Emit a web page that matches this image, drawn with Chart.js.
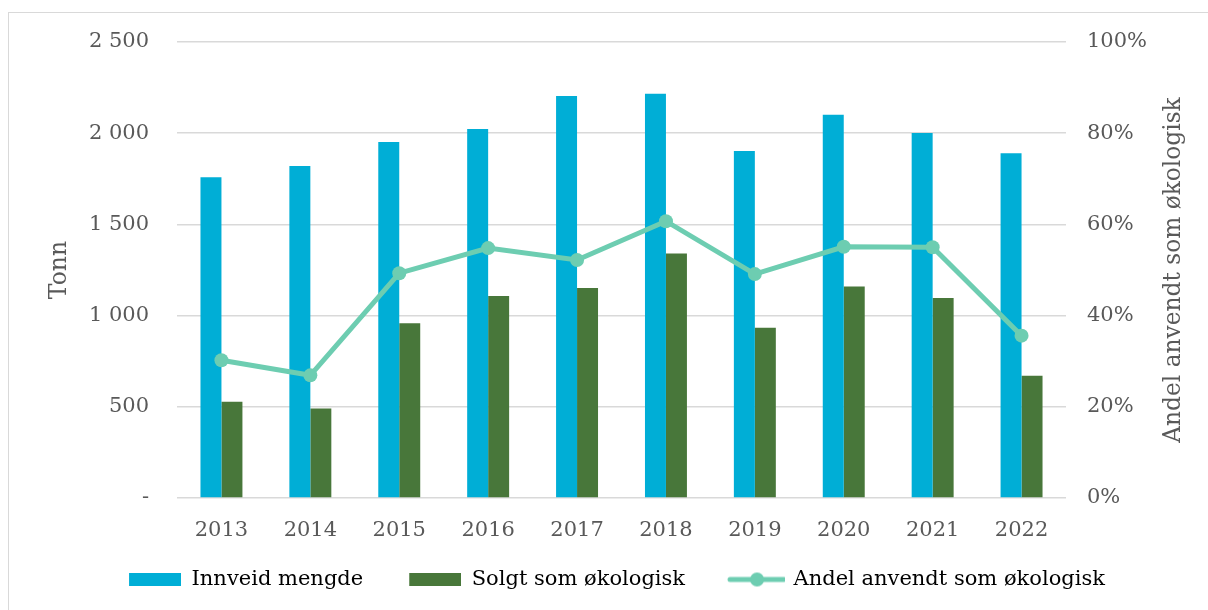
<!DOCTYPE html>
<html>
<head>
<meta charset="utf-8">
<script src="https://cdn.jsdelivr.net/npm/chart.js@4.4.1/dist/chart.umd.min.js"></script>
<style>
html,body{margin:0;padding:0;background:#fff;overflow:hidden}
#wrap{position:relative;width:1208px;height:610px}
#frame{position:absolute;left:8px;top:12px;width:1400px;height:800px;border:1.5px solid #d9d9d9;box-sizing:border-box}
#c{position:absolute;left:0;top:0}
</style>
</head>
<body>
<div id="wrap"><div id="frame"></div><canvas id="c" width="1208" height="610"></canvas></div>
<script>
// ---- data ----
const years = ['2013','2014','2015','2016','2017','2018','2019','2020','2021','2022'];
const innveidMengde = [1758,1820,1952,2023,2204,2216,1902,2101,2001,1890];
const solgtSomOkologisk = [528,490,958,1107,1151,1341,934,1160,1096,670];
const andelAnvendt = [30.2,26.9,49.3,54.8,52.2,60.7,49.1,55.1,55.0,35.6];
const leftTickValues = [0,500,1000,1500,2000,2500];
const leftTickLabels = ['-','500','1 000','1 500','2 000','2 500'];
const rightTickValues = [0,20,40,60,80,100];
const rightTickLabels = ['0%','20%','40%','60%','80%','100%'];
const seriesNames = ['Innveid mengde','Solgt som økologisk','Andel anvendt som økologisk'];
const leftTitle = 'Tonn';
const rightTitle = 'Andel anvendt som økologisk';

// ---- styles ----
const FONT = 'DejaVu Serif';
const TEXT = '#595959';
const BLUE = '#00AED6';
const GREEN = '#48773A';
const TEAL = '#6DCDB1';
const GRID = '#d9d9d9';
const LEAD = 36; // blank space before each legend symbol

function rectImg(color){
  const c=document.createElement('canvas'); c.width=52+LEAD; c.height=13;
  const x=c.getContext('2d'); x.fillStyle=color; x.fillRect(LEAD,0,52,13); return c;
}
function lineImg(color){
  const c=document.createElement('canvas'); c.width=52+LEAD+4; c.height=16;
  const x=c.getContext('2d'); x.strokeStyle=color; x.lineWidth=5; x.lineCap='round';
  x.beginPath(); x.moveTo(LEAD+1,8); x.lineTo(LEAD+55,8); x.stroke();
  x.fillStyle=color; x.beginPath(); x.arc(LEAD+28,8,7,0,Math.PI*2); x.fill(); return c;
}
const legendImgs=[rectImg(BLUE),rectImg(GREEN),lineImg(TEAL)];

const rightTitlePlugin={
  id:'rightTitle',
  afterDraw(chart){
    const ctx=chart.ctx; const a=chart.chartArea;
    ctx.save();
    ctx.font='23.3px "'+FONT+'"'; ctx.fillStyle=TEXT;
    ctx.textAlign='center'; ctx.textBaseline='middle';
    ctx.translate(1174,(a.top+a.bottom)/2); ctx.rotate(-Math.PI/2);
    ctx.fillText(rightTitle,0,0);
    ctx.restore();
  }
};

new Chart(document.getElementById('c'),{
  data:{
    labels:years,
    datasets:[
      {type:'line',label:seriesNames[2],data:andelAnvendt,yAxisID:'y1',borderColor:TEAL,backgroundColor:TEAL,
       borderWidth:5,pointRadius:7,pointHoverRadius:7,pointBackgroundColor:TEAL,pointBorderWidth:0,tension:0,order:0},
      {type:'bar',label:seriesNames[0],data:innveidMengde,yAxisID:'y',backgroundColor:BLUE,
       categoryPercentage:0.472,barPercentage:1.0,order:1},
      {type:'bar',label:seriesNames[1],data:solgtSomOkologisk,yAxisID:'y',backgroundColor:GREEN,
       categoryPercentage:0.472,barPercentage:1.0,order:1}
    ]
  },
  options:{
    responsive:false,animation:false,devicePixelRatio:1,
    layout:{padding:{left:0,right:10,top:42,bottom:10}},
    plugins:{
      tooltip:{enabled:false},
      legend:{
        position:'bottom',
        labels:{
          usePointStyle:true,pointStyleWidth:52+LEAD,padding:10,
          font:{family:FONT,size:21},color:TEXT,
          generateLabels(){
            return [1,2,0].map((di,i)=>({text:seriesNames[i],fillStyle:'#fff',strokeStyle:'#fff',lineWidth:0,
              pointStyle:legendImgs[i],hidden:false,datasetIndex:di}));
          }
        }
      }
    },
    scales:{
      x:{
        grid:{display:false},border:{display:false},
        ticks:{font:{family:FONT,size:21},color:TEXT,padding:12},
        afterFit(s){s.height=61;}
      },
      y:{
        position:'left',min:0,max:2500,
        afterBuildTicks(s){s.ticks=leftTickValues.map(v=>({value:v}));},
        ticks:{font:{family:FONT,size:21},color:TEXT,padding:28,
          callback:(v)=>leftTickLabels[leftTickValues.indexOf(v)]},
        grid:{color:GRID,lineWidth:1.5,drawTicks:false},border:{display:false},
        title:{display:true,text:leftTitle,font:{family:FONT,size:23.5},color:TEXT,padding:{top:46,bottom:0}},
        afterFit(s){s.width=177;}
      },
      y1:{
        position:'right',min:0,max:100,
        afterBuildTicks(s){s.ticks=rightTickValues.map(v=>({value:v}));},
        ticks:{font:{family:FONT,size:21},color:TEXT,padding:21,
          callback:(v)=>rightTickLabels[rightTickValues.indexOf(v)]},
        grid:{drawOnChartArea:false,drawTicks:false},border:{display:false},
        afterFit(s){s.width=132;}
      }
    }
  },
  plugins:[rightTitlePlugin]
});
</script>
</body>
</html>
